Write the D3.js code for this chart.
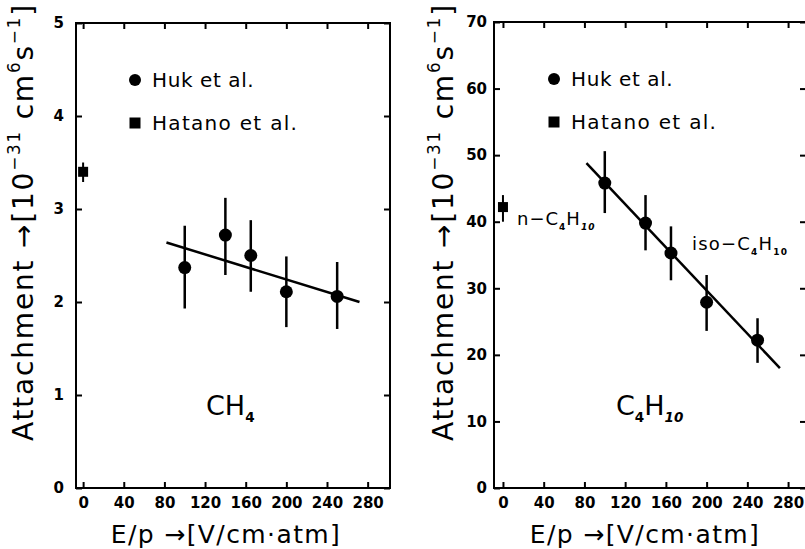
<!DOCTYPE html>
<html>
<head>
<meta charset="utf-8">
<script src="https://cdn.jsdelivr.net/npm/d3@7"></script>
<style>
  body { margin: 0; background: #fff; }
  text { font-family: "DejaVu Sans", sans-serif; fill: #000; }
</style>
</head>
<body>
<div id="container"></div>
<script>
// tick labels
const xTicks = [0, 40, 80, 120, 160, 200, 240, 280];
const ch4Ticks = [0, 1, 2, 3, 4, 5];
const c4h10Ticks = [0, 10, 20, 30, 40, 50, 60, 70];

// Huk et al. (circles with error bars)
const hukEp = [100, 140, 165, 200, 250];
const ch4Huk = [2.37, 2.72, 2.50, 2.11, 2.06];
const ch4HukLo = [1.93, 2.29, 2.11, 1.73, 1.71];
const ch4HukHi = [2.82, 3.12, 2.88, 2.49, 2.43];
const c4h10Huk = [45.8, 39.8, 35.3, 27.9, 22.2];
const c4h10HukLo = [41.3, 35.7, 31.2, 23.6, 18.8];
const c4h10HukHi = [50.6, 44.0, 39.3, 32.0, 25.5];

// Hatano et al. (squares)
const hatanoEp = [0];
const ch4Hatano = [3.40];
const ch4HatanoLo = [3.29];
const ch4HatanoHi = [3.50];
const c4h10Hatano = [42.2];
const c4h10HatanoLo = [40.0];
const c4h10HatanoHi = [44.0];

// fitted lines (end points)
const fitEp = [82, 272];
const ch4Fit = [2.64, 2.00];
const c4h10Fit = [48.8, 18.0];

const W = 805, H = 549;

const svg = d3.select('#container')
  .append('svg')
  .attr('width', W)
  .attr('height', H);

// writes text with sub/superscript parts
function richText(sel, parts, size) {
  let shift = 0;
  parts.forEach(p => {
    let target = 0;
    if (p.sup) target = -size * 0.45;
    if (p.sub) target = size * 0.25;
    sel.append('tspan')
      .attr('dy', target - shift)
      .attr('font-size', p.sup ? size * 0.6 : p.sub ? size * 0.5 : size)
      .attr('font-weight', p.bold ? 'bold' : null)
      .attr('font-style', p.italic ? 'italic' : null)
      .text(p.t);
    shift = target;
  });
}

function drawPanel(cfg) {
  const x = d3.scaleLinear().domain(cfg.xDom).range([cfg.left, cfg.right]);
  const y = d3.scaleLinear().domain([0, cfg.yMax]).range([cfg.bottom, cfg.top]);
  const g = svg.append('g');

  // frame
  g.append('rect')
    .attr('x', cfg.left).attr('y', cfg.top)
    .attr('width', cfg.right - cfg.left).attr('height', cfg.bottom - cfg.top)
    .attr('fill', 'none').attr('stroke', '#000').attr('stroke-width', 2);

  const xAxis = d3.axisBottom(x).tickValues(xTicks).tickFormat(d3.format('d'))
    .tickSizeInner(-6).tickSizeOuter(0).tickPadding(9);
  const yAxis = d3.axisLeft(y).tickValues(cfg.yTicks).tickFormat(d3.format('d'))
    .tickSizeInner(-6).tickSizeOuter(0).tickPadding(cfg.yPad);

  const gx = g.append('g').attr('transform', 'translate(0,' + cfg.bottom + ')').call(xAxis);
  const gy = g.append('g').attr('transform', 'translate(' + cfg.left + ',0)').call(yAxis);
  g.append('g').attr('transform', 'translate(0,' + cfg.top + ')')
    .call(d3.axisTop(x).tickValues(xTicks).tickSizeInner(-6).tickSizeOuter(0).tickFormat(''));
  g.append('g').attr('transform', 'translate(' + cfg.right + ',0)')
    .call(d3.axisRight(y).tickValues(cfg.yTicks).tickSizeInner(-6).tickSizeOuter(0).tickFormat(''));

  g.selectAll('.domain').remove();
  g.selectAll('.tick line').attr('stroke', '#000').attr('stroke-width', 2);
  [gx, gy].forEach(a => a.selectAll('text')
    .attr('font-family', '"DejaVu Sans", sans-serif')
    .attr('font-size', 15).attr('font-weight', 'bold').attr('fill', '#000'));

  // fit line
  g.append('line')
    .attr('x1', x(fitEp[0])).attr('y1', y(cfg.fit[0]))
    .attr('x2', x(fitEp[1])).attr('y2', y(cfg.fit[1]))
    .attr('stroke', '#000').attr('stroke-width', 2.5);

  // Huk error bars + circles
  g.selectAll('.hukErr').data(hukEp).join('line')
    .attr('x1', d => x(d)).attr('x2', d => x(d))
    .attr('y1', (d, i) => y(cfg.hukLo[i])).attr('y2', (d, i) => y(cfg.hukHi[i]))
    .attr('stroke', '#000').attr('stroke-width', 2.5);
  g.selectAll('.huk').data(hukEp).join('circle')
    .attr('cx', d => x(d)).attr('cy', (d, i) => y(cfg.huk[i]))
    .attr('r', 6.5).attr('fill', '#000');

  // Hatano
  g.selectAll('.hatErr').data(hatanoEp).join('line')
    .attr('x1', d => x(d)).attr('x2', d => x(d))
    .attr('y1', (d, i) => y(cfg.hatLo[i])).attr('y2', (d, i) => y(cfg.hatHi[i]))
    .attr('stroke', '#000').attr('stroke-width', 2);
  g.selectAll('.hat').data(hatanoEp).join('rect')
    .attr('x', d => x(d) - 5).attr('y', (d, i) => y(cfg.hat[i]) - 5)
    .attr('width', 10).attr('height', 10).attr('fill', '#000');

  // legend
  g.append('circle').attr('cx', cfg.legX).attr('cy', cfg.legY).attr('r', 6).attr('fill', '#000');
  g.append('text').attr('x', cfg.legX + 17).attr('y', cfg.legY + 7).attr('font-size', 20)
    .attr('letter-spacing', 0.6).text('Huk et al.');
  g.append('rect').attr('x', cfg.legX - 5.5).attr('y', cfg.legY + 37.5).attr('width', 11).attr('height', 11).attr('fill', '#000');
  g.append('text').attr('x', cfg.legX + 17).attr('y', cfg.legY + 50).attr('font-size', 20)
    .attr('letter-spacing', 1.3).text('Hatano et al.');

  // gas name
  richText(g.append('text').attr('x', cfg.gasX).attr('y', 415), cfg.gas, 27);

  // axis titles
  g.append('text').attr('x', cfg.xTitleX).attr('y', 543)
    .attr('text-anchor', 'middle').attr('font-size', 25).attr('letter-spacing', 1.4)
    .text('E/p \u2192[V/cm\u00b7atm]');
  const yt = g.append('text')
    .attr('transform', 'translate(' + cfg.yTitleX + ',222) rotate(-90)')
    .attr('text-anchor', 'middle').attr('letter-spacing', 1.8);
  richText(yt, [
    { t: 'Attachment \u2192[10' }, { t: '\u221231', sup: true },
    { t: '  cm' }, { t: '6', sup: true }, { t: 's' }, { t: '\u22121', sup: true }, { t: ']' }
  ], 28);

  return { x, y, g };
}

drawPanel({
  left: 76, right: 390, top: 23, bottom: 488, xDom: [-7, 302],
  yMax: 5, yTicks: ch4Ticks, yPad: 12,
  huk: ch4Huk, hukLo: ch4HukLo, hukHi: ch4HukHi,
  hat: ch4Hatano, hatLo: ch4HatanoLo, hatHi: ch4HatanoHi,
  fit: ch4Fit, legX: 135, legY: 80,
  gas: [{ t: 'CH' }, { t: '4', sub: true, bold: true }], gasX: 206,
  xTitleX: 226, yTitleX: 33
});

const right = drawPanel({
  left: 494, right: 806, top: 22, bottom: 488, xDom: [-8.8, 297.6],
  yMax: 70, yTicks: c4h10Ticks, yPad: 7,
  huk: c4h10Huk, hukLo: c4h10HukLo, hukHi: c4h10HukHi,
  hat: c4h10Hatano, hatLo: c4h10HatanoLo, hatHi: c4h10HatanoHi,
  fit: c4h10Fit, legX: 554, legY: 79,
  gas: [{ t: 'C' }, { t: '4', sub: true, bold: true }, { t: 'H' }, { t: '10', sub: true, bold: true, italic: true }], gasX: 616,
  xTitleX: 645, yTitleX: 453
});

// labels next to the butane points
richText(right.g.append('text').attr('x', 517).attr('y', 225).attr('letter-spacing', 1),
  [{ t: 'n\u2212C' }, { t: '4', sub: true, bold: true }, { t: 'H' }, { t: '10', sub: true, bold: true, italic: true }], 18);
richText(right.g.append('text').attr('x', 692).attr('y', 250).attr('letter-spacing', 1.2),
  [{ t: 'iso\u2212C' }, { t: '4', sub: true, bold: true }, { t: 'H' }, { t: '10', sub: true, bold: true }], 18);
</script>
</body>
</html>
